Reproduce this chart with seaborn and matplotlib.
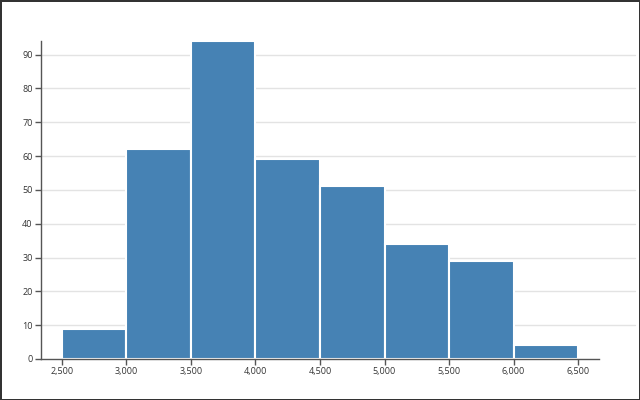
import matplotlib
matplotlib.use("Agg")
import matplotlib.pyplot as plt
import numpy as np
import pandas as pd
import seaborn as sns

# Data
bin_edges = [2500, 3000, 3500, 4000, 4500, 5000, 5500, 6000, 6500]
counts = [9, 62, 94, 59, 51, 34, 29, 4]
y_ticks = [0, 10, 20, 30, 40, 50, 60, 70, 80, 90]

centers = [(a + b) / 2 for a, b in zip(bin_edges[:-1], bin_edges[1:])]
df = pd.DataFrame({"value": centers, "count": counts})

sns.set_style("white")
plt.rcParams['font.family'] = ['Open Sans', 'DejaVu Sans']

fig = plt.figure(figsize=(6.4, 4.0), dpi=100)
fig.patch.set_edgecolor("#333333")
fig.patch.set_linewidth(2)
ax = fig.add_axes([0.064, 0.1025, 0.872, 0.795])

# grid lines running past the axis to the right
for yv in y_ticks[1:]:
	ax.plot([0, 1.065], [yv, yv], transform=ax.get_yaxis_transform(),
		color="#e3e3e3", lw=1, clip_on=False, zorder=0)

sns.histplot(data=df, x="value", weights="count", bins=bin_edges, ax=ax,
	color="#4682b4", alpha=1, edgecolor="white", linewidth=1.5, zorder=2)

ax.set_xlim(2337, 6663)
ax.set_ylim(0, 94)
ax.set_xticks(bin_edges)
ax.set_xticklabels([f"{v:,}" for v in bin_edges])
ax.set_yticks(y_ticks)
ax.set_xlabel("")
ax.set_ylabel("")
for s in ["top", "right"]:
	ax.spines[s].set_visible(False)
for s in ["left", "bottom"]:
	ax.spines[s].set_color("#555555")
	ax.spines[s].set_linewidth(1)
ax.tick_params(axis="both", direction="out", length=4, width=1, color="#555555",
	labelsize=6.5, labelcolor="#333333", pad=2)
ax.tick_params(axis="both", which="both", bottom=True, left=True)

fig.savefig("out.png", dpi=100, edgecolor=fig.get_edgecolor())
